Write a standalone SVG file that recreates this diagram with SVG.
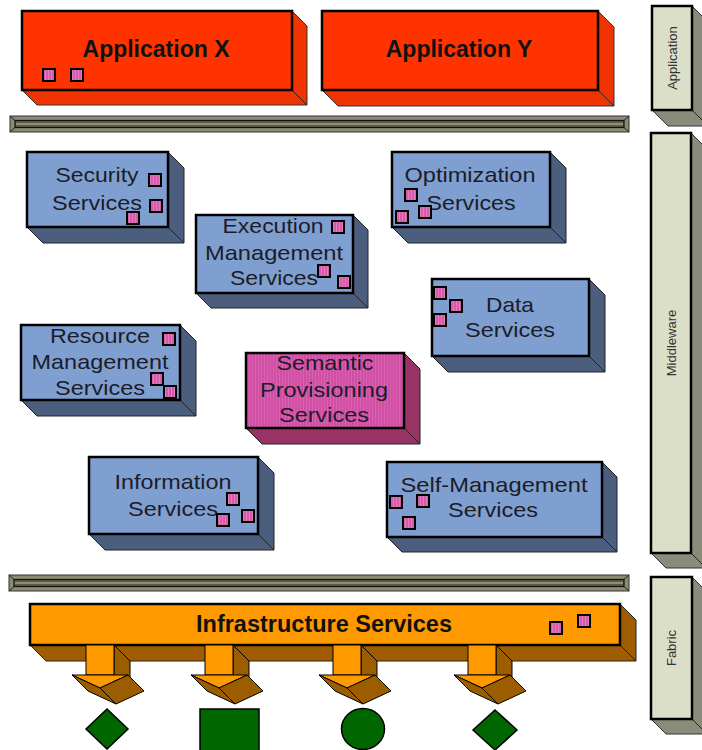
<svg xmlns="http://www.w3.org/2000/svg" width="702" height="750" viewBox="0 0 702 750">
<defs>
<pattern id="pk" width="3" height="3" patternUnits="userSpaceOnUse"><rect width="3" height="3" fill="#d65cab"/><rect width="1" height="3" fill="#e27cbf"/></pattern>
<pattern id="pk2" width="3" height="3" patternUnits="userSpaceOnUse"><rect width="3" height="3" fill="#d04ea4"/><rect width="1" height="3" fill="#d862b0"/></pattern>
<style>
.f{stroke:#000;stroke-width:2.5}
.blue{fill:#7f9fd0}
.bs{fill:#4c5e7e;stroke:#222;stroke-width:1}
.e{fill:none;stroke:#222;stroke-width:1}
.red{fill:#ff3300}
.rs{fill:#f03300;stroke:#333;stroke-width:1}
.gry{fill:#dcdfc8}
.gs{fill:#8b8b7b;stroke:#333;stroke-width:1}
.sq{fill:url(#pk);stroke:#000;stroke-width:2}
.lbl{font-family:"Liberation Sans",Arial,sans-serif;font-size:21px;fill:#1c1c28;text-anchor:middle}
.ttl{font-family:"Liberation Sans",Arial,sans-serif;font-size:23px;font-weight:bold;fill:#111;text-anchor:middle}
.side{font-family:"Liberation Sans",Arial,sans-serif;font-size:13px;fill:#333;text-anchor:middle}
.bar{fill:#8b8b72;stroke:#333;stroke-width:1}
.bari{fill:#5c5c48;stroke:#111;stroke-width:1.2}
.ar{fill:#ff9900;stroke:#000;stroke-width:1}
.ab{fill:#9c5c00;stroke:#000;stroke-width:1}
.g{fill:#006600;stroke:#000;stroke-width:1.5}
</style>
</defs>
<rect width="702" height="750" fill="#fff"/>

<!-- side layer labels -->
<g id="layer-application">
<polygon class="gs" points="692,6 708,22 708,126 668,126 652,110 692,110"/>
<line class="e" x1="692" y1="110" x2="708" y2="126"/>
<rect class="gry f" x="652" y="6" width="40" height="104"/>
<text class="side" transform="translate(676.5,58) rotate(-90)">Application</text>
</g>
<g id="layer-middleware">
<polygon class="gs" points="691,133 706,148 706,568 666,568 651,553 691,553"/>
<line class="e" x1="691" y1="553" x2="706" y2="568"/>
<rect class="gry f" x="651" y="133" width="40" height="420"/>
<text class="side" transform="translate(675.5,343) rotate(-90)">Middleware</text>
</g>
<g id="layer-fabric">
<polygon class="gs" points="692,577 707,592 707,734 666,734 651,719 692,719"/>
<line class="e" x1="692" y1="719" x2="707" y2="734"/>
<rect class="gry f" x="651" y="577" width="41" height="142"/>
<text class="side" transform="translate(676,648) rotate(-90)">Fabric</text>
</g>

<!-- applications -->
<g id="application-x">
<polygon class="rs" points="292,11 307,26 307,105 37,105 22,90 292,90"/>
<line class="e" x1="292" y1="90" x2="307" y2="105"/>
<rect class="red f" x="22" y="11" width="270" height="79"/>
<text class="ttl" x="156" y="57">Application X</text>
<rect class="sq" x="43" y="69" width="12" height="12"/>
<rect class="sq" x="71" y="69" width="12" height="12"/>
</g>
<g id="application-y">
<polygon class="rs" points="598,11 614,27 614,106 338,106 322,90 598,90"/>
<line class="e" x1="598" y1="90" x2="614" y2="106"/>
<rect class="red f" x="322" y="11" width="276" height="79"/>
<text class="ttl" x="459" y="57">Application Y</text>
</g>

<!-- separator bars -->
<g id="bar-top">
<rect class="bar" x="10" y="116" width="619" height="16"/>
<rect class="bari" x="15" y="120.5" width="609" height="7"/>
<line x1="16" y1="124" x2="623" y2="124" stroke="#a0a088" stroke-width="1.5"/>
<path d="M10,116 L15,120.5 M629,116 L624,120.5 M10,132 L15,127.5 M629,132 L624,127.5" stroke="#222" stroke-width="1"/>
</g>
<g id="bar-bottom">
<rect class="bar" x="9" y="575" width="620" height="16"/>
<rect class="bari" x="14" y="579.5" width="610" height="7"/>
<line x1="15" y1="583" x2="623" y2="583" stroke="#a0a088" stroke-width="1.5"/>
<path d="M9,575 L14,579.5 M629,575 L624,579.5 M9,591 L14,586.5 M629,591 L624,586.5" stroke="#222" stroke-width="1"/>
</g>

<!-- middleware services -->
<g id="security-services">
<polygon class="bs" points="168,152 184,168 184,243 43,243 27,227 168,227"/>
<line class="e" x1="168" y1="227" x2="184" y2="243"/>
<rect class="blue f" x="27" y="152" width="141" height="75"/>
<text class="lbl" x="97" y="182" textLength="83" lengthAdjust="spacingAndGlyphs">Security</text>
<text class="lbl" x="97" y="210" textLength="90" lengthAdjust="spacingAndGlyphs">Services</text>
<rect class="sq" x="149" y="174" width="12" height="12"/>
<rect class="sq" x="150" y="200" width="12" height="12"/>
<rect class="sq" x="127" y="212" width="12" height="12"/>
</g>

<g id="execution-management-services">
<polygon class="bs" points="353,215 368,230 368,308 211,308 196,293 353,293"/>
<line class="e" x1="353" y1="293" x2="368" y2="308"/>
<rect class="blue f" x="196" y="215" width="157" height="78"/>
<text class="lbl" x="273" y="233" textLength="101" lengthAdjust="spacingAndGlyphs">Execution</text>
<text class="lbl" x="274" y="260" textLength="138" lengthAdjust="spacingAndGlyphs">Management</text>
<text class="lbl" x="274" y="285" textLength="88" lengthAdjust="spacingAndGlyphs">Services</text>
<rect class="sq" x="332" y="221" width="12" height="12"/>
<rect class="sq" x="318" y="265" width="12" height="12"/>
<rect class="sq" x="338" y="276" width="12" height="12"/>
</g>

<g id="optimization-services">
<polygon class="bs" points="550,152 566,168 566,243 408,243 392,227 550,227"/>
<line class="e" x1="550" y1="227" x2="566" y2="243"/>
<rect class="blue f" x="392" y="152" width="158" height="75"/>
<text class="lbl" x="470" y="182" textLength="131" lengthAdjust="spacingAndGlyphs">Optimization</text>
<text class="lbl" x="471" y="210" textLength="89" lengthAdjust="spacingAndGlyphs">Services</text>
<rect class="sq" x="405" y="189" width="12" height="12"/>
<rect class="sq" x="396" y="211" width="12" height="12"/>
<rect class="sq" x="419" y="206" width="12" height="12"/>
</g>

<g id="data-services">
<polygon class="bs" points="589,279 605,295 605,372 448,372 432,356 589,356"/>
<line class="e" x1="589" y1="356" x2="605" y2="372"/>
<rect class="blue f" x="432" y="279" width="157" height="77"/>
<text class="lbl" x="510" y="312" textLength="48" lengthAdjust="spacingAndGlyphs">Data</text>
<text class="lbl" x="510" y="337" textLength="90" lengthAdjust="spacingAndGlyphs">Services</text>
<rect class="sq" x="434" y="287" width="12" height="12"/>
<rect class="sq" x="450" y="300" width="12" height="12"/>
<rect class="sq" x="434" y="314" width="12" height="12"/>
</g>

<g id="resource-management-services">
<polygon class="bs" points="180,325 196,341 196,416 37,416 21,400 180,400"/>
<line class="e" x1="180" y1="400" x2="196" y2="416"/>
<rect class="blue f" x="21" y="325" width="159" height="75"/>
<text class="lbl" x="100" y="343" textLength="100" lengthAdjust="spacingAndGlyphs">Resource</text>
<text class="lbl" x="100" y="369" textLength="137" lengthAdjust="spacingAndGlyphs">Management</text>
<text class="lbl" x="100" y="395" textLength="90" lengthAdjust="spacingAndGlyphs">Services</text>
<rect class="sq" x="163" y="333" width="12" height="12"/>
<rect class="sq" x="151" y="373" width="12" height="12"/>
<rect class="sq" x="164" y="386" width="12" height="12"/>
</g>

<g id="semantic-provisioning-services">
<polygon points="404,353 420,369 420,444 262,444 246,428 404,428" fill="#993366" stroke="#222" stroke-width="1"/>
<line class="e" x1="404" y1="428" x2="420" y2="444"/>
<rect class="f" x="246" y="353" width="158" height="75" fill="url(#pk2)"/>
<text class="lbl" x="325" y="370" textLength="97" lengthAdjust="spacingAndGlyphs">Semantic</text>
<text class="lbl" x="324" y="397" textLength="128" lengthAdjust="spacingAndGlyphs">Provisioning</text>
<text class="lbl" x="324" y="422" textLength="90" lengthAdjust="spacingAndGlyphs">Services</text>
</g>

<g id="information-services">
<polygon class="bs" points="258,457 274,473 274,550 105,550 89,534 258,534"/>
<line class="e" x1="258" y1="534" x2="274" y2="550"/>
<rect class="blue f" x="89" y="457" width="169" height="77"/>
<text class="lbl" x="173" y="489" textLength="117" lengthAdjust="spacingAndGlyphs">Information</text>
<text class="lbl" x="173" y="516" textLength="90" lengthAdjust="spacingAndGlyphs">Services</text>
<rect class="sq" x="227" y="493" width="12" height="12"/>
<rect class="sq" x="217" y="514" width="12" height="12"/>
<rect class="sq" x="242" y="510" width="12" height="12"/>
</g>

<g id="self-management-services">
<polygon class="bs" points="602,462 617,477 617,552 402,552 387,537 602,537"/>
<line class="e" x1="602" y1="537" x2="617" y2="552"/>
<rect class="blue f" x="387" y="462" width="215" height="75"/>
<text class="lbl" x="494" y="492" textLength="187" lengthAdjust="spacingAndGlyphs">Self-Management</text>
<text class="lbl" x="493" y="517" textLength="90" lengthAdjust="spacingAndGlyphs">Services</text>
<rect class="sq" x="390" y="496" width="12" height="12"/>
<rect class="sq" x="417" y="495" width="12" height="12"/>
<rect class="sq" x="403" y="517" width="12" height="12"/>
</g>

<!-- fabric -->
<g id="infrastructure-services">
<polygon points="620,604 636,620 636,661 46,661 30,645 620,645" fill="#a05c00" stroke="#222" stroke-width="1"/>
<line class="e" x1="620" y1="645" x2="636" y2="661"/>
<rect class="f" x="30" y="604" width="590" height="41" fill="#ff9900"/>
<text class="ttl" x="324" y="632" textLength="256" lengthAdjust="spacingAndGlyphs">Infrastructure Services</text>
<rect class="sq" x="550" y="622" width="12" height="12"/>
<rect class="sq" x="578" y="615" width="12" height="12"/>
</g>

<g id="connectors">
<g id="arrow-1" transform="translate(0,0)">
<polygon class="ab" points="114,645 130,661 130,691 114,675"/>
<rect class="ar" x="86" y="645" width="28" height="30"/>
<polygon class="ar" points="72,675 128,675 100,688"/>
<polygon class="ab" points="72,675 100,688 116,704 88,691"/>
<polygon class="ab" points="100,688 128,675 144,691 116,704"/>
</g>
<g id="arrow-2" transform="translate(119,0)">
<polygon class="ab" points="114,645 130,661 130,691 114,675"/>
<rect class="ar" x="86" y="645" width="28" height="30"/>
<polygon class="ar" points="72,675 128,675 100,688"/>
<polygon class="ab" points="72,675 100,688 116,704 88,691"/>
<polygon class="ab" points="100,688 128,675 144,691 116,704"/>
</g>
<g id="arrow-3" transform="translate(247,0)">
<polygon class="ab" points="114,645 130,661 130,691 114,675"/>
<rect class="ar" x="86" y="645" width="28" height="30"/>
<polygon class="ar" points="72,675 128,675 100,688"/>
<polygon class="ab" points="72,675 100,688 116,704 88,691"/>
<polygon class="ab" points="100,688 128,675 144,691 116,704"/>
</g>
<g id="arrow-4" transform="translate(382,0)">
<polygon class="ab" points="114,645 130,661 130,691 114,675"/>
<rect class="ar" x="86" y="645" width="28" height="30"/>
<polygon class="ar" points="72,675 128,675 100,688"/>
<polygon class="ab" points="72,675 100,688 116,704 88,691"/>
<polygon class="ab" points="100,688 128,675 144,691 116,704"/>
</g>
</g>

<g id="resource-diamond-1"><polygon class="g" points="107,709 128,729 107,749 86,729"/></g>
<g id="resource-square"><rect class="g" x="200" y="709" width="59" height="44"/></g>
<g id="resource-circle"><ellipse class="g" cx="363" cy="729" rx="21.5" ry="20.5"/></g>
<g id="resource-diamond-2"><polygon class="g" points="495,710 517,730 495,750 473,730"/></g>
</svg>
